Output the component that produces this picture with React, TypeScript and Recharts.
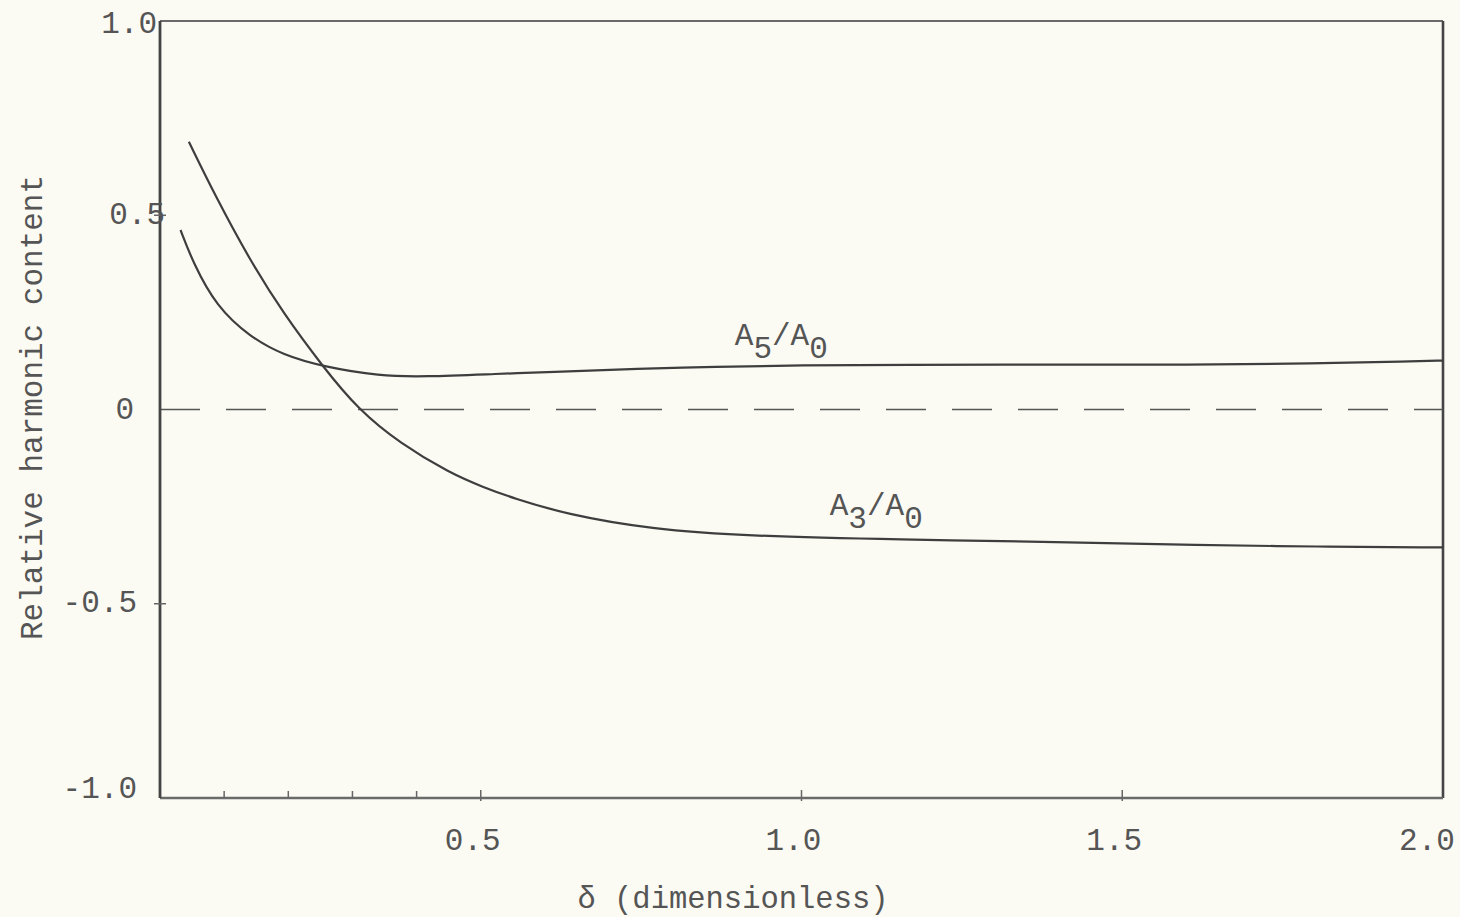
import React from 'react';
import { LineChart, Line, XAxis, YAxis, ReferenceLine, ReferenceDot, Label } from 'recharts';

// A3/A0 curve (delta, ratio)
const a3Delta = [0.045, 0.088, 0.14, 0.192, 0.254, 0.309, 0.374, 0.452, 0.504, 0.55, 0.634, 0.764, 0.92, 1.154, 1.4, 1.621, 1.8, 2.0];
const a3Ratio = [0.689, 0.544, 0.385, 0.248, 0.11, 0.0, -0.087, -0.164, -0.2, -0.228, -0.27, -0.308, -0.326, -0.335, -0.341, -0.349, -0.353, -0.355];

// A5/A0 curve (delta, ratio)
const a5Delta = [0.032, 0.052, 0.088, 0.14, 0.192, 0.255, 0.343, 0.41, 0.53, 0.603, 0.75, 0.862, 1.0, 1.154, 1.4, 1.6, 1.8, 1.95, 2.0];
const a5Ratio = [0.462, 0.376, 0.265, 0.187, 0.14, 0.11, 0.086, 0.084, 0.092, 0.096, 0.105, 0.11, 0.114, 0.115, 0.116, 0.115, 0.118, 0.124, 0.126];

const xTickValues = [0.1, 0.2, 0.3, 0.4, 0.5, 1.0, 1.5, 2.0];
const xTickLabels = ['', '', '', '', '0.5', '1.0', '1.5', '2.0'];
const yTickValues = [1.0, 0.5, 0, -0.5, -1.0];
const yTickLabels = ['1.0', '0.5', '0', '-0.5', '-1.0'];

const xTitle = 'δ (dimensionless)';
const yTitle = 'Relative harmonic content';

const a3Data = a3Delta.map((d, i) => ({ delta: d, ratio: a3Ratio[i] }));
const a5Data = a5Delta.map((d, i) => ({ delta: d, ratio: a5Ratio[i] }));

const FONT = '"Liberation Mono", "DejaVu Sans Mono", monospace';
const TEXT = '#555';
const LINE = '#3e3e3e';

const yLabelOffset: Record<string, [number, number]> = {
  '1': [-3, 12],
  '0.5': [5, 9],
  '0': [-26, 9],
  '-0.5': [-23, 8],
  '-1': [-23, 0],
};

const XTick = (props: any) => {
  const { x, y, payload } = props;
  const v = payload.value;
  const idx = xTickValues.indexOf(v);
  const label = idx >= 0 ? xTickLabels[idx] : '';
  const major = label !== '';
  const dx = v >= 2 ? -16 : -8;
  return (
    <g>
      {v < 2 && (
        <line x1={x} x2={x} y1={major ? y - 8 : y - 7} y2={major ? y + 3 : y} stroke="#666" strokeWidth={1.5} />
      )}
      {major && (
        <text x={x + dx} y={y + 52} textAnchor="middle" fontFamily={FONT} fontSize={31} fill={TEXT}>
          {label}
        </text>
      )}
    </g>
  );
};

const YTick = (props: any) => {
  const { x, y, payload } = props;
  const v = payload.value;
  const idx = yTickValues.indexOf(v);
  const label = idx >= 0 ? yTickLabels[idx] : '';
  const off = yLabelOffset[String(v)] || [-20, 9];
  return (
    <g>
      {(v === 0.5 || v === -0.5) && (
        <line x1={x - 6} x2={x + 6} y1={y} y2={y} stroke="#666" strokeWidth={1.5} />
      )}
      <text x={x + off[0]} y={y + off[1]} textAnchor="end" fontFamily={FONT} fontSize={31} fill={TEXT}>
        {label}
      </text>
    </g>
  );
};

const XTitle = (props: any) => {
  const vb = props.viewBox || { x: 160, y: 798, width: 1283, height: 60 };
  return (
    <text x={vb.x + 573} y={vb.y + 110} textAnchor="middle" fontFamily={FONT} fontSize={30.5} fill={TEXT}>
      {xTitle}
    </text>
  );
};

const YTitle = (props: any) => {
  const vb = props.viewBox || { x: 60, y: 21, width: 100, height: 777 };
  const cx = vb.x - 27;
  const cy = vb.y + vb.height / 2 - 2;
  return (
    <text
      x={cx}
      y={cy}
      transform={`rotate(-90 ${cx} ${cy})`}
      textAnchor="middle"
      dominantBaseline="central"
      fontFamily={FONT}
      fontSize={31}
      fill={TEXT}
    >
      {yTitle}
    </text>
  );
};

const makeCurveLabel = (sub: string) => (props: any) => {
  const { cx, cy } = props;
  return (
    <text x={cx} y={cy} fontFamily={FONT} fontSize={31} fill={TEXT}>
      <tspan>A</tspan>
      <tspan dy={13}>{sub}</tspan>
      <tspan dy={-13}>/A</tspan>
      <tspan dy={13}>0</tspan>
    </text>
  );
};

export default function App() {
  return (
    <div style={{ position: 'absolute', left: 0, top: 0, width: 1460, height: 917, background: '#fbfbf4' }}>
      <LineChart width={1460} height={917} margin={{ top: 21, right: 17, bottom: 59, left: 60 }}>
        <XAxis
          dataKey="delta"
          type="number"
          domain={[0, 2]}
          ticks={xTickValues}
          tick={<XTick />}
          tickLine={false}
          tickSize={0}
          tickMargin={0}
          height={60}
          axisLine={{ stroke: '#6a6a6a', strokeWidth: 2.5 }}
          allowDataOverflow
          interval={0}
        >
          <Label content={XTitle} />
        </XAxis>
        <YAxis
          type="number"
          domain={[-1, 1]}
          ticks={yTickValues}
          tick={<YTick />}
          tickLine={false}
          tickSize={0}
          tickMargin={0}
          width={100}
          axisLine={{ stroke: '#444', strokeWidth: 2.8 }}
          allowDataOverflow
          interval={0}
        >
          <Label content={YTitle} />
        </YAxis>
        <ReferenceLine y={1} stroke="#6a6a6a" strokeWidth={2.2} />
        <ReferenceLine x={2} stroke="#444" strokeWidth={2.6} />
        <ReferenceLine y={0} stroke="#555" strokeWidth={1.6} strokeDasharray="40 26" />
        <Line
          data={a3Data}
          dataKey="ratio"
          type="basis"
          stroke={LINE}
          strokeWidth={2.2}
          dot={false}
          isAnimationActive={false}
        />
        <Line
          data={a5Data}
          dataKey="ratio"
          type="basis"
          stroke={LINE}
          strokeWidth={2.2}
          dot={false}
          isAnimationActive={false}
        />
        <ReferenceDot x={0.896} y={0.166} r={1} shape={makeCurveLabel('5')} />
        <ReferenceDot x={1.044} y={-0.272} r={1} shape={makeCurveLabel('3')} />
      </LineChart>
    </div>
  );
}
